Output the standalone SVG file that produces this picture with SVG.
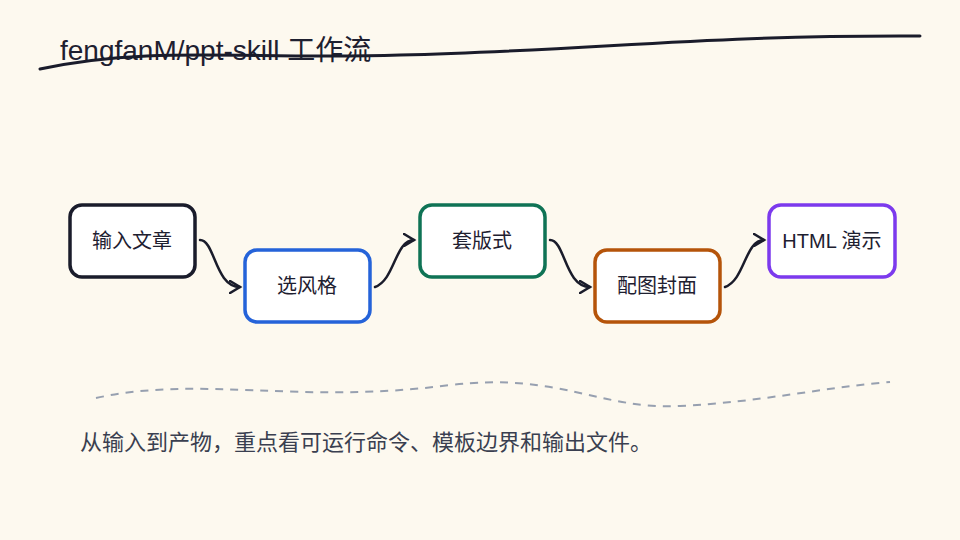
<svg xmlns="http://www.w3.org/2000/svg" width="960" height="540" viewBox="0 0 960 540">
<defs>
<style>
.n{fill:#fff;stroke-width:3.5}
.t{font-family:"Liberation Sans","Noto Sans CJK SC",sans-serif;font-size:20px;fill:#1e2030;text-anchor:middle;dominant-baseline:central}
.c{fill:none;stroke:#1a1c2b;stroke-width:2.5;stroke-linecap:round}
</style>
<marker id="a" markerWidth="14" markerHeight="14" refX="11" refY="7" orient="auto" markerUnits="userSpaceOnUse"><path d="M1,1 L11,7 L1,13" fill="none" stroke="#1a1c2b" stroke-width="2.5" stroke-linecap="round"/></marker>
</defs>
<rect width="960" height="540" fill="#fdf9ef"/>
<text x="60" y="50" font-family="Liberation Sans,Noto Sans CJK SC,sans-serif" font-size="28" fill="#1e2030" dominant-baseline="central">fengfanM/ppt-skill 工作流</text>
<path d="M40,69 C150,45 250,60 400,55 C600,50 700,35 920,36" fill="none" stroke="#1a1c2b" stroke-width="3" stroke-linecap="round"/>
<g id="connectors">
<path class="c" marker-end="url(#a)" d="M200,240 C215,240 215,287 240,287"/>
<path class="c" marker-end="url(#a)" d="M375,287 C395,280 395,240 414,240"/>
<path class="c" marker-end="url(#a)" d="M550,240 C565,240 565,287 590,287"/>
<path class="c" marker-end="url(#a)" d="M725,287 C745,280 745,240 764,240"/>
</g>
<g id="n1"><rect class="n" x="70" y="205" width="125" height="72" rx="12" stroke="#1a1c2b"/><text class="t" x="132" y="241">输入文章</text></g>
<g id="n2"><rect class="n" x="245" y="250" width="125" height="72" rx="12" stroke="#2563d9"/><text class="t" x="307" y="286">选风格</text></g>
<g id="n3"><rect class="n" x="420" y="205" width="125" height="72" rx="12" stroke="#0f7355"/><text class="t" x="482" y="241">套版式</text></g>
<g id="n4"><rect class="n" x="595" y="250" width="125" height="72" rx="12" stroke="#b5540a"/><text class="t" x="657" y="286">配图封面</text></g>
<g id="n5"><rect class="n" x="769" y="205" width="126" height="72" rx="12" stroke="#7c3aed"/><text class="t" x="832" y="241">HTML 演示</text></g>
<path d="M96,398 C200,375 300,405 450,385 C560,372 600,410 680,406 C760,402 820,388 890,382" fill="none" stroke="#97a0b0" stroke-width="2" stroke-dasharray="8,7"/>
<text x="80" y="442" font-family="Liberation Sans,Noto Sans CJK SC,sans-serif" font-size="22" fill="#3a3f50" dominant-baseline="central">从输入到产物，重点看可运行命令、模板边界和输出文件。</text>
</svg>
